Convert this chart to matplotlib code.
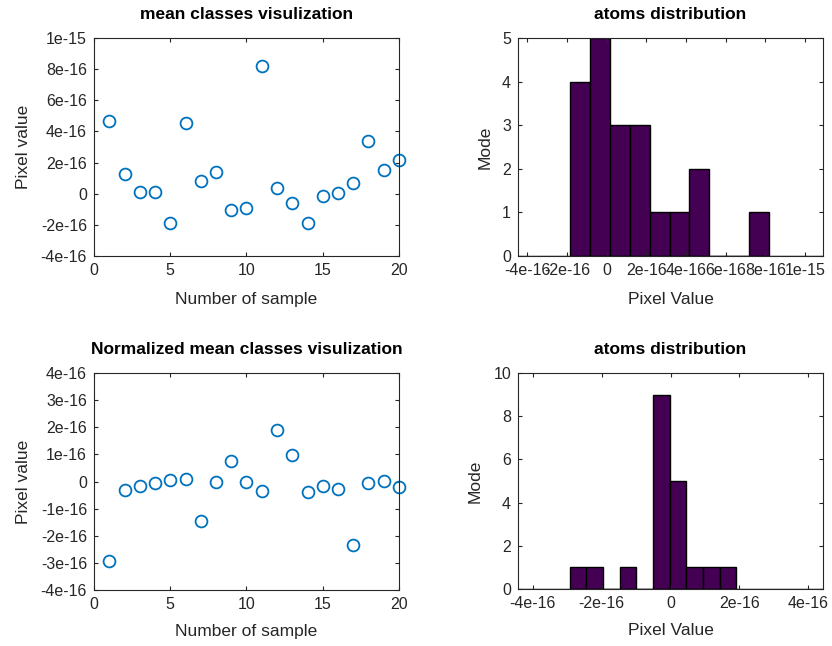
import matplotlib
matplotlib.use("Agg")
import matplotlib.pyplot as plt
import numpy as np

plt.rcParams['font.family'] = ['Liberation Sans', 'DejaVu Sans']

# ---- data ----
samples = list(range(1, 21))
mean_vals = [4.69, 1.28, 0.09, 0.09, -1.86, 4.54, 0.82, 1.39, -1.07, -0.94,
             8.20, 0.37, -0.62, -1.86, -0.13, 0.06, 0.69, 3.36, 1.50, 2.18]
mean_vals = [v * 1e-16 for v in mean_vals]
norm_vals = [-2.93, -0.32, -0.16, -0.07, 0.07, 0.10, -1.44, -0.02, 0.75, -0.01,
             -0.34, 1.91, 0.96, -0.39, -0.15, -0.27, -2.34, -0.06, 0.01, -0.22]
norm_vals = [v * 1e-16 for v in norm_vals]

tl_yticks = [-4e-16, -2e-16, 0, 2e-16, 4e-16, 6e-16, 8e-16, 1e-15]
tl_ylabels = ['-4e-16', '-2e-16', '0', '2e-16', '4e-16', '6e-16', '8e-16', '1e-15']
bl_yticks = [-4e-16, -3e-16, -2e-16, -1e-16, 0, 1e-16, 2e-16, 3e-16, 4e-16]
bl_ylabels = ['-4e-16', '-3e-16', '-2e-16', '-1e-16', '0', '1e-16', '2e-16', '3e-16', '4e-16']
tr_xticks = tl_yticks
tr_xlabels = tl_ylabels
br_xticks = [-4e-16, -2e-16, 0, 2e-16, 4e-16]
br_xlabels = ['-4e-16', '-2e-16', '0', '2e-16', '4e-16']
sample_ticks = [0, 5, 10, 15, 20]

W, H = 832, 646
fig = plt.figure(figsize=(W / 100, H / 100), dpi=100)

def rect(l, t, r, b):
    return [l / W, (H - b) / H, (r - l) / W, (b - t) / H]

axcol = '#262626'
marker_col = '#0072BD'
bar_col = '#440154'
TICK_FS = 11.5
LABEL_FS = 12.5
TITLE_FS = 12.5

def style(ax):
    for s in ax.spines.values():
        s.set_color(axcol)
        s.set_linewidth(0.8)
    ax.tick_params(direction='in', top=True, right=True, length=3, width=0.8,
                   colors=axcol, labelsize=TICK_FS, pad=5)

def scatter_panel(r, vals, yticks, ylabels, title, xlpad):
    ax = fig.add_axes(rect(*r))
    ax.plot(samples, vals, linestyle='none', marker='o', markersize=8.5,
            markerfacecolor='none', markeredgecolor=marker_col, markeredgewidth=1.3,
            clip_on=False)
    ax.set_xlim(0, 20)
    ax.set_ylim(yticks[0], yticks[-1])
    ax.set_xticks(sample_ticks)
    ax.set_yticks(yticks)
    ax.set_yticklabels(ylabels)
    ax.set_xlabel('Number of sample', fontsize=LABEL_FS, color=axcol, labelpad=xlpad)
    ax.set_ylabel('Pixel value', fontsize=LABEL_FS, color=axcol, labelpad=7)
    ax.set_title(title, fontsize=TITLE_FS, fontweight='bold', pad=14, color='black')
    style(ax)
    return ax

def hist_panel(r, vals, xlim, xticks, xlabels, ymax, yticks, title, xlpad, ylpad):
    ax = fig.add_axes(rect(*r))
    ax.hist(vals, bins=10, color=bar_col, edgecolor='black', linewidth=1.0)
    ax.axhline(0, color='black', linewidth=1.0)
    ax.set_xlim(*xlim)
    ax.set_ylim(0, ymax)
    ax.set_xticks(xticks)
    ax.set_xticklabels(xlabels)
    ax.set_yticks(yticks)
    ax.set_xlabel('Pixel Value', fontsize=LABEL_FS, color=axcol, labelpad=xlpad)
    ax.set_ylabel('Mode', fontsize=LABEL_FS, color=axcol, labelpad=ylpad)
    ax.set_title(title, fontsize=TITLE_FS, fontweight='bold', pad=14, color='black')
    style(ax)
    return ax

scatter_panel((94, 38, 399, 256), mean_vals, tl_yticks, tl_ylabels,
              'mean classes visulization', 10)
hist_panel((518, 38, 823, 256), mean_vals, (-4.47e-16, 10.91e-16), tr_xticks, tr_xlabels,
           5, [0, 1, 2, 3, 4, 5], 'atoms distribution', 10, 7)
scatter_panel((94, 373, 399, 590), norm_vals, bl_yticks, bl_ylabels,
              'Normalized mean classes visulization', 9)
hist_panel((518, 373, 823, 589), norm_vals, (-4.43e-16, 4.43e-16), br_xticks, br_xlabels,
           10, [0, 2, 4, 6, 8, 10], 'atoms distribution', 9, 8)

fig.savefig('out.png', dpi=100, facecolor='white')
